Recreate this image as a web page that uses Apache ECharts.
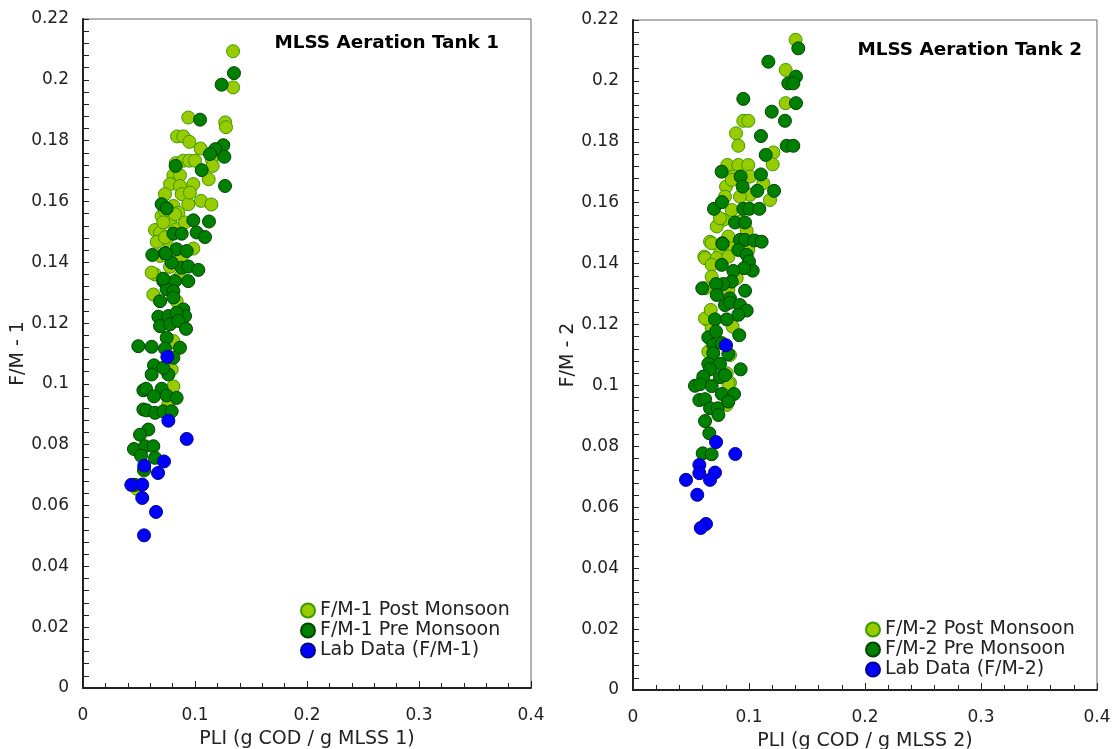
<!DOCTYPE html>
<html>
<head>
<meta charset="utf-8">
<script src="https://cdn.jsdelivr.net/npm/echarts@6/dist/echarts.min.js"></script>
<style>
  html, body { margin: 0; padding: 0; background: #fff; }
  #chart { width: 1114px; height: 749px; }
</style>
</head>
<body>
<div id="chart"></div>
<script>
  // tank 1 : [PLI, F/M]
  const post1 = [
    [0.134,0.2094],[0.134,0.1975],[0.094,0.1876],[0.084,0.1814],[0.0896,0.1814],[0.095,0.1796],[0.105,0.1774],
    [0.127,0.186],[0.1277,0.1844],[0.0828,0.1726],[0.0896,0.1734],[0.0949,0.1734],[0.1,0.1734],[0.1149,0.1739],
    [0.1158,0.1717],[0.0807,0.1686],[0.0866,0.1686],[0.1122,0.1673],[0.0777,0.1657],[0.0866,0.1651],[0.0985,0.1657],
    [0.0732,0.1624],[0.0881,0.1624],[0.1054,0.1602],[0.1146,0.159],[0.094,0.1591],[0.0807,0.1585],[0.0702,0.1552],
    [0.0777,0.1533],[0.0851,0.1563],[0.0643,0.1506],[0.0688,0.1498],[0.0747,0.1473],[0.0836,0.1509],[0.0985,0.1445],
    [0.0658,0.1467],[0.0732,0.1569],[0.0821,0.1558],[0.0717,0.1531],[0.0911,0.1531],[0.0732,0.1482],[0.0688,0.1421],
    [0.0747,0.1421],[0.0643,0.136],[0.0613,0.1366],[0.0955,0.1629],[0.0628,0.1294],[0.0836,0.1272],[0.0807,0.1136],
    [0.0792,0.1047],[0.0807,0.0992],[0.0807,0.1141],[0.048,0.0655],[0.0545,0.0715],[0.0762,0.0935],[0.0881,0.1416],
    [0.0866,0.1352],[0.0777,0.1385]
  ];
  const pre1 = [
    [0.1348,0.2022],[0.1238,0.1984],[0.1045,0.1869],[0.0827,0.1717],[0.1253,0.1785],[0.1182,0.1772],[0.1134,0.1756],
    [0.1262,0.1747],[0.106,0.1703],[0.1268,0.1651],[0.0702,0.1591],[0.0747,0.1577],[0.0985,0.1538],[0.1125,0.1534],
    [0.0807,0.1494],[0.0881,0.1494],[0.1015,0.1498],[0.1089,0.1483],[0.0619,0.1424],[0.0732,0.143],[0.0836,0.1443],
    [0.0926,0.1437],[0.0881,0.1382],[0.094,0.1386],[0.103,0.1375],[0.0792,0.1399],[0.0717,0.1338],[0.0821,0.1338],
    [0.094,0.1338],[0.0747,0.1311],[0.0807,0.1305],[0.0688,0.1272],[0.0807,0.1284],[0.0896,0.1245],[0.0911,0.1223],
    [0.0673,0.1221],[0.0762,0.1223],[0.0836,0.1234],[0.0688,0.119],[0.0777,0.1196],[0.0851,0.1207],[0.092,0.1181],
    [0.0747,0.1152],[0.0494,0.1124],[0.0613,0.1122],[0.0732,0.1116],[0.0866,0.1119],[0.0807,0.1086],[0.0634,0.1061],
    [0.0613,0.1031],[0.0762,0.1031],[0.0717,0.1053],[0.0539,0.0979],[0.0563,0.0984],[0.0702,0.0984],[0.0634,0.0959],
    [0.0747,0.0962],[0.0836,0.0954],[0.0539,0.0916],[0.0568,0.0913],[0.0643,0.0905],[0.0717,0.091],[0.0792,0.091],
    [0.0583,0.085],[0.0509,0.0833],[0.0455,0.0786],[0.0554,0.0795],[0.0628,0.0795],[0.0518,0.0764],[0.0643,0.0757],
    [0.0545,0.0718],[0.0464,0.0668],[0.0741,0.1429],[0.0717,0.1346]
  ];
  const lab1 = [
    [0.0753,0.1089],[0.0762,0.0879],[0.0926,0.0819],[0.0547,0.0731],[0.0723,0.0745],[0.067,0.0707],
    [0.0431,0.0668],[0.0529,0.0669],[0.0529,0.0625],[0.0652,0.0579],[0.0545,0.0502]
  ];

  // tank 2
  const post2 = [
    [0.1402,0.2135],[0.1316,0.2036],[0.1316,0.1927],[0.0951,0.1869],[0.0994,0.1869],[0.0888,0.1828],[0.0908,0.1787],
    [0.121,0.1765],[0.1204,0.1726],[0.0813,0.1724],[0.0908,0.1724],[0.0994,0.1724],[0.0865,0.1686],[0.0802,0.1653],
    [0.0793,0.162],[0.1123,0.1664],[0.1181,0.1609],[0.1009,0.1626],[0.0922,0.162],[0.0778,0.1544],[0.0851,0.1576],
    [0.0722,0.1522],[0.0922,0.1538],[0.098,0.1508],[0.0822,0.1489],[0.075,0.1434],[0.0664,0.1472],[0.0615,0.1423],
    [0.1009,0.1686],[0.0851,0.1675],[0.075,0.1549],[0.0678,0.1467],[0.0994,0.1445],[0.0851,0.1451],[0.0621,0.1418],
    [0.0722,0.1418],[0.0822,0.1423],[0.0678,0.1396],[0.0678,0.1357],[0.0894,0.1352],[0.0621,0.1319],[0.0822,0.1314],
    [0.0635,0.1217],[0.0649,0.1111],[0.0859,0.1193],[0.0836,0.11],[0.0808,0.104],[0.0836,0.1009],[0.0808,0.0936],
    [0.0678,0.1188],[0.0621,0.122],[0.067,0.1248],[0.0822,0.1007]
  ];
  const pre2 = [
    [0.1425,0.2107],[0.1167,0.2063],[0.1405,0.2014],[0.1339,0.1992],[0.1382,0.1992],[0.1405,0.1927],[0.0951,0.1941],
    [0.1196,0.1899],[0.131,0.1869],[0.1103,0.1819],[0.1325,0.1787],[0.1382,0.1787],[0.1144,0.1757],[0.0764,0.1702],
    [0.0928,0.1686],[0.1103,0.1693],[0.0945,0.1653],[0.1072,0.1639],[0.1216,0.1639],[0.0698,0.158],[0.0767,0.1602],
    [0.0951,0.158],[0.1003,0.158],[0.1089,0.158],[0.0879,0.1535],[0.0966,0.1535],[0.077,0.1467],[0.0922,0.1478],
    [0.0966,0.1478],[0.1046,0.1476],[0.1109,0.1472],[0.0908,0.1445],[0.098,0.1429],[0.1,0.1407],[0.1032,0.1377],
    [0.0957,0.1385],[0.0765,0.1396],[0.0865,0.1376],[0.0851,0.1341],[0.0778,0.1333],[0.0716,0.1333],[0.0597,0.1319],
    [0.0966,0.1311],[0.0722,0.1297],[0.0836,0.1286],[0.0773,0.1465],[0.0793,0.1264],[0.0836,0.1272],[0.0922,0.1264],
    [0.098,0.1246],[0.0908,0.1232],[0.0707,0.1217],[0.0808,0.1217],[0.0649,0.1158],[0.0716,0.1177],[0.0916,0.1165],
    [0.0692,0.1133],[0.0765,0.1139],[0.0822,0.1103],[0.0692,0.1106],[0.0649,0.1071],[0.075,0.1071],[0.0664,0.1053],
    [0.0928,0.1053],[0.075,0.1027],[0.0793,0.1034],[0.0606,0.1029],[0.0534,0.0999],[0.0578,0.1004],[0.0678,0.0998],
    [0.0572,0.0952],[0.0621,0.0955],[0.0765,0.0972],[0.0871,0.0972],[0.0822,0.0947],[0.0664,0.0925],[0.073,0.0925],
    [0.0736,0.0903],[0.0621,0.0883],[0.0658,0.0843],[0.0601,0.0777],[0.0678,0.0774]
  ];
  const lab2 = [
    [0.0802,0.1132],[0.0716,0.0814],[0.0882,0.0775],[0.0572,0.0739],[0.0572,0.0712],[0.0707,0.0714],
    [0.0664,0.069],[0.0457,0.069],[0.0554,0.0641],[0.0629,0.0545],[0.0584,0.0532]
  ];

  const names1 = ['F/M-1 Post Monsoon', 'F/M-1 Pre Monsoon', 'Lab Data (F/M-1)'];
  const names2 = ['F/M-2 Post Monsoon', 'F/M-2 Pre Monsoon', 'Lab Data (F/M-2)'];

  const FONT = 'DejaVu Sans';
  const styles = [
    { color: '#99cc00', borderColor: '#3a9a00', borderWidth: 1, opacity: 1 },
    { color: '#008000', borderColor: '#004400', borderWidth: 1, opacity: 1 },
    { color: '#0000ff', borderColor: '#000088', borderWidth: 1, opacity: 1 }
  ];

  function xAxis(idx, title) {
    return {
      type: 'value', gridIndex: idx, min: 0, max: 0.4, interval: 0.1,
      name: title, nameLocation: 'middle', nameGap: 42,
      nameTextStyle: { fontFamily: FONT, fontSize: 19, color: '#222' },
      axisLine: { lineStyle: { color: '#222', width: 2 } },
      axisTick: { inside: true, length: 7, lineStyle: { color: '#222' } },
      minorTick: { show: true, splitNumber: 5, length: 5, lineStyle: { color: '#222' } },
      splitLine: { show: false },
      axisLabel: { fontFamily: FONT, fontSize: 17, color: '#222', margin: 19 }
    };
  }
  function yAxis(idx, title, gap) {
    return {
      type: 'value', gridIndex: idx, min: 0, max: 0.22, interval: 0.02,
      name: title, nameLocation: 'middle', nameGap: gap, nameRotate: 90,
      nameTextStyle: { fontFamily: FONT, fontSize: 19, color: '#222' },
      axisLine: { lineStyle: { color: '#222', width: 2 } },
      axisTick: { inside: true, length: 6, lineStyle: { color: '#222' } },
      minorTick: { show: true, splitNumber: 5, length: 6, lineStyle: { color: '#222' } },
      splitLine: { show: false },
      axisLabel: { fontFamily: FONT, fontSize: 17, color: '#222', margin: 14 }
    };
  }
  function scatter(name, data, k, idx) {
    return {
      name: name, type: 'scatter', data: data, xAxisIndex: idx, yAxisIndex: idx,
      symbolSize: 13, itemStyle: styles[k], emphasis: { disabled: true }
    };
  }
  function legend(names, left, top) {
    return {
      data: names, orient: 'vertical', left: left, top: top, itemGap: 1,
      icon: 'circle', itemWidth: 14, itemHeight: 14,
      textStyle: { fontFamily: FONT, fontSize: 19, color: '#222' }
    };
  }

  const chart = echarts.init(document.getElementById('chart'));
  chart.setOption({
    animation: false,
    textStyle: { fontFamily: FONT },
    title: [
      { text: 'MLSS Aeration Tank 1', right: 610, top: 29,
        textStyle: { fontFamily: FONT, fontSize: 18.4, fontWeight: 'bold', color: '#000' } },
      { text: 'MLSS Aeration Tank 2', right: 27, top: 36,
        textStyle: { fontFamily: FONT, fontSize: 18.4, fontWeight: 'bold', color: '#000' } }
    ],
    legend: [
      legend(names1, 295, 596),
      legend(names2, 860, 615)
    ],
    grid: [
      { left: 83, top: 19, width: 448, height: 669, outerBoundsMode: 'none',
        show: true, borderColor: '#666', borderWidth: 1 },
      { left: 633, top: 20, width: 464, height: 670, outerBoundsMode: 'none',
        show: true, borderColor: '#666', borderWidth: 1 }
    ],
    xAxis: [xAxis(0, 'PLI (g COD / g MLSS 1)'), xAxis(1, 'PLI (g COD / g MLSS 2)')],
    yAxis: [yAxis(0, 'F/M - 1', 50), yAxis(1, 'F/M - 2', 47)],
    series: [
      scatter(names1[0], post1, 0, 0),
      scatter(names1[1], pre1, 1, 0),
      scatter(names1[2], lab1, 2, 0),
      scatter(names2[0], post2, 0, 1),
      scatter(names2[1], pre2, 1, 1),
      scatter(names2[2], lab2, 2, 1)
    ]
  });
</script>
</body>
</html>
